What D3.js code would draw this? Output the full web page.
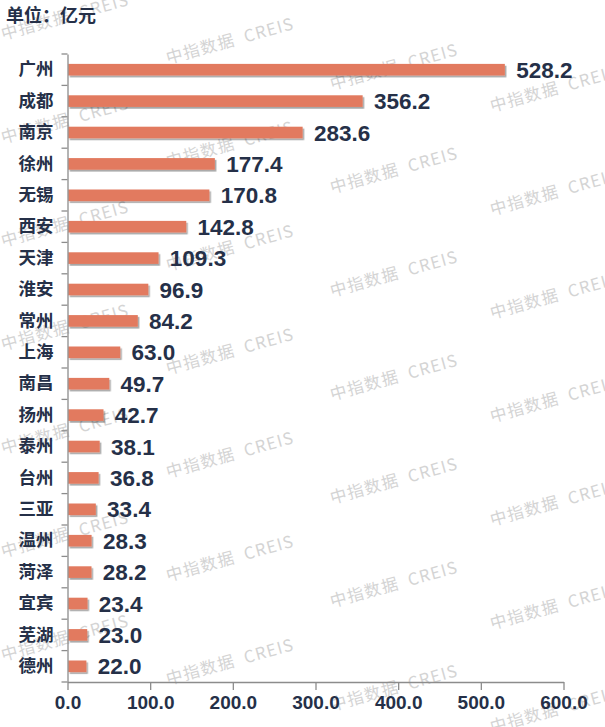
<!DOCTYPE html>
<html><head><meta charset="utf-8">
<script src="https://cdn.jsdelivr.net/npm/d3@7"></script>
<style>body{margin:0;background:#fff}</style>
</head><body>
<script>
const categories = ["广州","成都","南京","徐州","无锡","西安","天津","淮安","常州","上海","南昌","扬州","泰州","台州","三亚","温州","菏泽","宜宾","芜湖","德州"];
const values = [528.2,356.2,283.6,177.4,170.8,142.8,109.3,96.9,84.2,63.0,49.7,42.7,38.1,36.8,33.4,28.3,28.2,23.4,23.0,22.0];
const xTicks = [0,100,200,300,400,500,600];
const unitLabel = "单位：亿元";
const watermark = "中指数据 CREIS";

const W = 605, H = 727;
const svg = d3.select("body").append("svg").attr("width", W).attr("height", H);
const defs = svg.append("defs");
const f = defs.append("filter").attr("id","sh").attr("x","-10%").attr("y","-50%").attr("width","130%").attr("height","250%");
f.append("feDropShadow").attr("dx",1.5).attr("dy",1.8).attr("stdDeviation",0.7).attr("flood-color","#000").attr("flood-opacity",0.35);

const mLeft = 67.5, mRight = 563.5, mTop = 54, mBottom = 682;
const x = d3.scaleLinear().domain([0,600]).range([mLeft,mRight]);
const y = d3.scaleBand().domain(categories).range([mTop,mBottom]).paddingInner(0.63).paddingOuter(0.315);

const txt = "#253048";
const fontCJK = "'Noto Sans CJK SC','Liberation Sans',sans-serif";
const fontNum = "'Liberation Sans',Arial,sans-serif";

// watermarks (rotated grid)
const wm = svg.append("g").attr("fill","#d4d4d4")
  .style("font-family",fontCJK).style("font-size","16.5px").style("letter-spacing","1.2px");
const cols = [[3,40],[168,64],[332,90],[492,112]];
const step = 103.5;
cols.forEach(([cx,cy])=>{
  for(let k=-1;k<8;k++){
    const py = cy + k*step;
    if (py < 20 || py > 740) continue;
    wm.append("text").attr("x",cx).attr("y",py).attr("transform",`rotate(-15.5 ${cx} ${py})`)
      .text(watermark).attr("xml:space","preserve").style("white-space","pre")
      .text("中指数据  CREIS");
  }
});

// title
svg.append("text").attr("x",6).attr("y",22).attr("fill",txt)
  .style("font-family",fontCJK).style("font-size","18px").style("font-weight","bold").text(unitLabel);

// bars
svg.append("g").selectAll("rect").data(values).join("rect")
  .attr("x", x(0)+0.7).attr("y",(d,i)=>y(categories[i]))
  .attr("width",d=>x(d)-x(0)).attr("height",y.bandwidth())
  .attr("fill","#e27a5f").attr("filter","url(#sh)");

// value labels
svg.append("g").selectAll("text").data(values).join("text")
  .attr("x",d=>x(d)+12).attr("y",(d,i)=>y(categories[i])+y.bandwidth()/2)
  .attr("dy","0.36em").attr("fill",txt)
  .style("font-family",fontNum).style("font-size","22.5px").style("font-weight","bold")
  .text(d=>d.toFixed(1));

// y axis
const ya = svg.append("g").attr("transform",`translate(${mLeft},0)`)
  .call(d3.axisLeft(y).tickSize(0).tickPadding(14));
ya.select(".domain").attr("stroke","#8c8c8c").attr("stroke-width",1.3);
ya.selectAll("text").attr("fill",txt).style("font-family",fontCJK).style("font-size","17.5px").style("font-weight","bold");
const bounds = categories.map(c=>y(c)-y.step()*y.paddingInner()/2).concat([mBottom]);
bounds[0] = mTop;
ya.selectAll("line.bt").data(bounds).join("line").attr("class","bt")
  .attr("x1",-6).attr("x2",0).attr("y1",d=>d).attr("y2",d=>d).attr("stroke","#8c8c8c").attr("stroke-width",1.3);

// x axis
const xa = svg.append("g").attr("transform",`translate(0,${mBottom})`)
  .call(d3.axisBottom(x).tickValues(xTicks).tickSize(8).tickPadding(6).tickFormat(d=>d.toFixed(1)).tickSizeOuter(0));
xa.select(".domain").attr("stroke","#8c8c8c").attr("stroke-width",1.3);
xa.selectAll("line").attr("stroke","#8c8c8c").attr("stroke-width",1.3);
xa.selectAll("text").attr("fill",txt).style("font-family",fontNum).style("font-size","19px").style("font-weight","bold");
</script>
</body></html>
